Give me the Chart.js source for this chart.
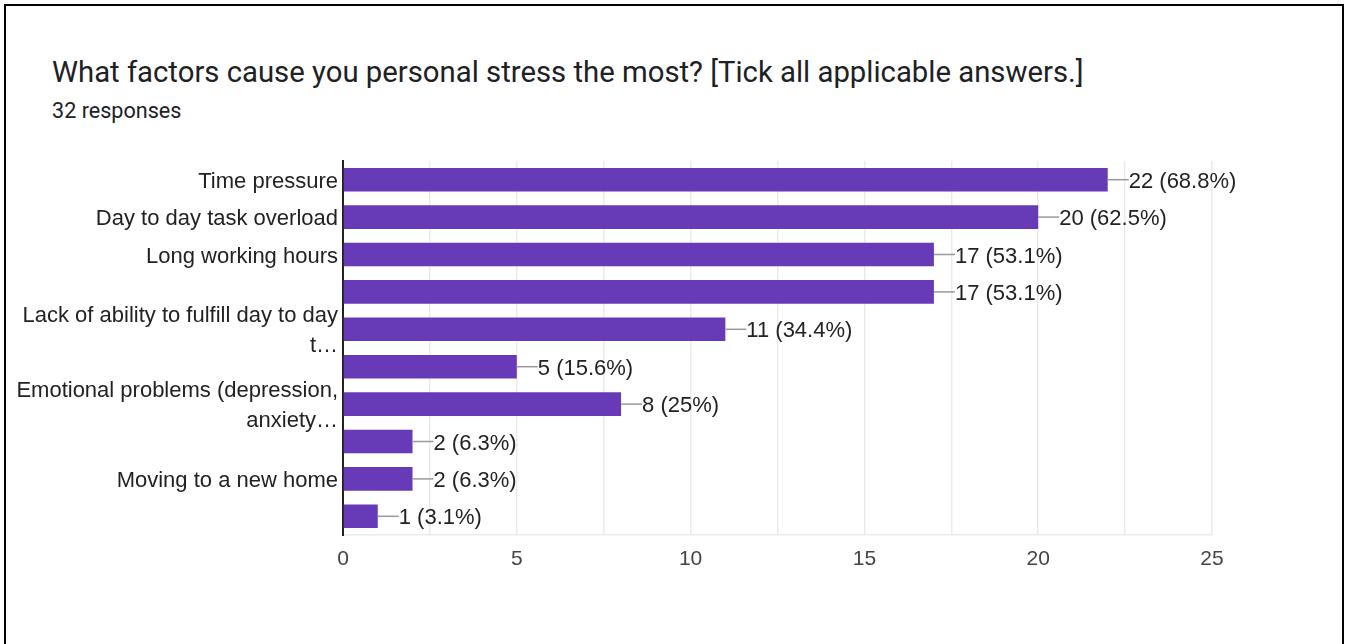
<!DOCTYPE html>
<html>
<head>
<meta charset="utf-8">
<script src="https://cdn.jsdelivr.net/npm/chart.js@4"></script>
<style>
  html, body { margin: 0; padding: 0; background: #fff; }
  body { width: 1350px; height: 644px; position: relative; overflow: hidden; }
  .frame {
    position: absolute; left: 4px; top: 4px; width: 1340px; height: 700px;
    border: 2px solid #000; box-sizing: border-box;
  }
  .title {
    position: absolute; left: 52px; top: 55px;
    font-family: Roboto, Arial, sans-serif; font-size: 29.3px; color: #202124;
    white-space: nowrap;
  }
  .subtitle {
    position: absolute; left: 52px; top: 98px;
    font-family: Roboto, Arial, sans-serif; font-size: 21.6px; color: #202124;
  }
  .chart-box { position: absolute; left: 0; top: 0; width: 1350px; height: 644px; }
</style>
</head>
<body>
<div class="frame"></div>
<div class="title">What factors cause you personal stress the most? [Tick all applicable answers.]</div>
<div class="subtitle">32 responses</div>
<div class="chart-box"><canvas id="stressChart" width="1350" height="644"></canvas></div>

<script>
// Survey answers (labels that the chart leaves out are blank)
const categories = [
  'Time pressure',
  'Day to day task overload',
  'Long working hours',
  '',
  ['Lack of ability to fulfill day to day', 't\u2026'],
  '',
  ['Emotional problems (depression,', 'anxiety\u2026'],
  '',
  'Moving to a new home',
  ''
];
const counts = [22, 20, 17, 17, 11, 5, 8, 2, 2, 1];
const totalResponses = 32;
const xTicks = [0, 5, 10, 15, 20, 25];

const labelFont = '22px "Liberation Sans", Arial, sans-serif';

// Count + percentage next to each bar, joined by a short grey leader line
const valueLabels = {
    id: 'valueLabels',
    afterDatasetsDraw(chart) {
        const ctx = chart.ctx;
        const meta = chart.getDatasetMeta(0);
        ctx.save();
        ctx.font = labelFont;
        ctx.textBaseline = 'middle';
        ctx.fillStyle = '#222';
        meta.data.forEach((bar, i) => {
            const v = counts[i];
            const pct = Math.round(v / totalResponses * 1000) / 10;
            ctx.strokeStyle = '#999';
            ctx.lineWidth = 1.5;
            ctx.beginPath();
            ctx.moveTo(bar.x, bar.y);
            ctx.lineTo(bar.x + 21, bar.y);
            ctx.stroke();
            ctx.fillText(v + ' (' + pct + '%)', bar.x + 21, bar.y + 2);
        });
        ctx.restore();
    }
};

new Chart(document.getElementById('stressChart'), {
    type: 'bar',
    data: {
        labels: categories,
        datasets: [{
            data: counts,
            backgroundColor: '#673ab7',
            borderWidth: 0,
            barPercentage: 0.63,
            categoryPercentage: 1
        }]
    },
    options: {
        indexAxis: 'y',
        responsive: false,
        animation: false,
        layout: { padding: { left: 10, right: 138, top: 161, bottom: 59 } },
        plugins: {
            legend: { display: false },
            tooltip: { enabled: false }
        },
        scales: {
            x: {
                min: 0,
                max: 25,
                afterFit: (scale) => { scale.height = 50; },
                ticks: {
                    stepSize: 2.5,
                    autoSkip: false,
                    maxRotation: 0,
                    padding: 12,
                    color: '#444',
                    font: { family: '"Liberation Sans", Arial, sans-serif', size: 21 },
                    callback: (v) => xTicks.includes(v) ? v : ''
                },
                grid: {
                    drawTicks: false,
                    color: (c) => c.tick && c.tick.value === 0 ? 'rgba(0,0,0,0)' : '#ebebeb',
                    lineWidth: 1.5
                },
                border: { display: true, color: '#ebebeb', width: 1.5 }
            },
            y: {
                afterFit: (scale) => { scale.width = 333; },
                ticks: {
                    autoSkip: false,
                    padding: 5,
                    labelOffset: 2,
                    color: '#222',
                    font: { family: '"Liberation Sans", Arial, sans-serif', size: 22, lineHeight: 1.36 }
                },
                grid: { display: false, drawTicks: false },
                border: { display: true, color: '#222', width: 2 }
            }
        }
    },
    plugins: [valueLabels]
});
</script>
</body>
</html>
